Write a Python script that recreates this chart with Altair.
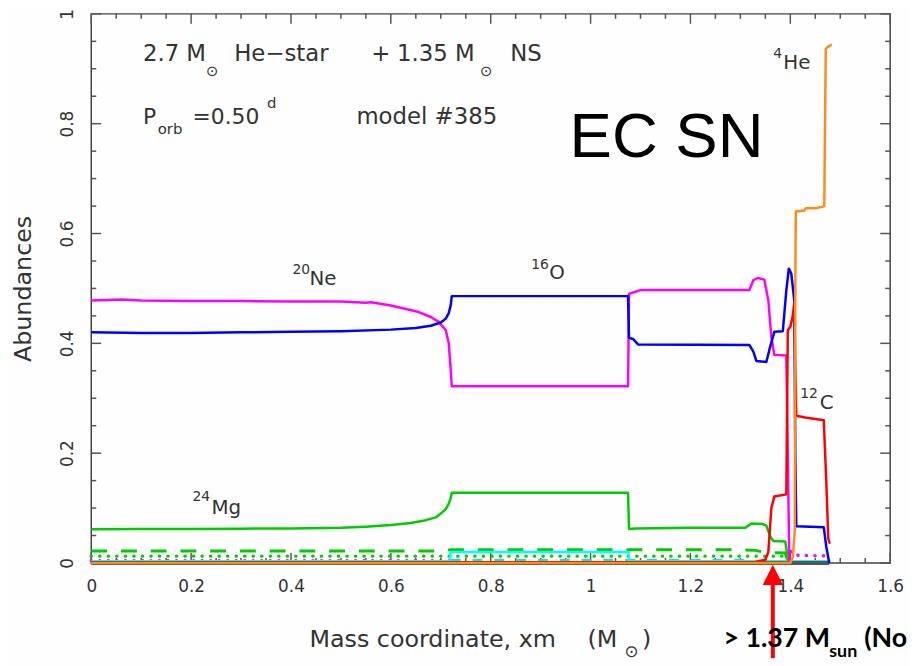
import altair as alt
import pandas as pd

# ---------------- data ----------------
# 20Ne (magenta, solid)
ne_x = [0, 0.03, 0.06, 0.1, 0.2, 0.3, 0.4, 0.5, 0.55, 0.56, 0.6, 0.656, 0.68, 0.696, 0.71, 0.716,
        0.72, 0.722, 1.075, 1.077, 1.09, 1.10, 1.318, 1.326, 1.335, 1.348, 1.356, 1.362, 1.368,
        1.392, 1.395, 1.398]
ne_y = [0.478, 0.479, 0.480, 0.478, 0.477, 0.477, 0.476, 0.476, 0.474, 0.475, 0.469, 0.457, 0.448,
        0.439, 0.424, 0.40, 0.35, 0.322, 0.322, 0.490, 0.494, 0.497, 0.497, 0.515, 0.519, 0.516,
        0.478, 0.412, 0.379, 0.378, 0.20, 0.0]
# 16O (blue, solid)
o_x = [0, 0.1, 0.2, 0.3, 0.4, 0.5, 0.6, 0.65, 0.68, 0.70, 0.71, 0.716, 0.72, 0.722, 1.075, 1.077,
       1.085, 1.095, 1.318, 1.326, 1.332, 1.352, 1.358, 1.368, 1.385, 1.392, 1.397, 1.402, 1.408,
       1.410, 1.412, 1.467, 1.472, 1.478]
o_y = [0.420, 0.419, 0.419, 0.420, 0.421, 0.422, 0.425, 0.428, 0.432, 0.438, 0.445, 0.455, 0.470,
       0.486, 0.486, 0.410, 0.408, 0.398, 0.397, 0.385, 0.368, 0.366, 0.388, 0.421, 0.422, 0.496,
       0.536, 0.527, 0.478, 0.20, 0.067, 0.065, 0.03, 0.0]
# 12C (red, solid)
c_x = [0, 1.33, 1.35, 1.356, 1.362, 1.368, 1.392, 1.395, 1.40, 1.405, 1.408, 1.410, 1.412, 1.43,
       1.467, 1.472, 1.476, 1.479]
c_y = [0.0, 0.002, 0.006, 0.02, 0.10, 0.121, 0.125, 0.424, 0.43, 0.45, 0.475, 0.35, 0.268, 0.265,
       0.26, 0.15, 0.045, 0.035]
# 4He (orange, solid)
he_x = [0, 1.40, 1.405, 1.409, 1.410, 1.411, 1.428, 1.431, 1.451, 1.465, 1.468, 1.471, 1.474, 1.483]
he_y = [0.0, 0.0, 0.01, 0.06, 0.5, 0.640, 0.642, 0.646, 0.646, 0.649, 0.650, 0.936, 0.939, 0.944]
# 24Mg (green, solid)
mg_x = [0, 0.1, 0.2, 0.3, 0.4, 0.5, 0.55, 0.6, 0.64, 0.67, 0.69, 0.70, 0.71, 0.716, 0.72, 0.722,
        1.075, 1.077, 1.09, 1.2, 1.31, 1.322, 1.345, 1.352, 1.36, 1.366, 1.39, 1.393, 1.397]
mg_y = [0.0615, 0.062, 0.062, 0.0625, 0.063, 0.064, 0.066, 0.069, 0.073, 0.078, 0.083, 0.090, 0.098,
        0.108, 0.118, 0.128, 0.128, 0.062, 0.063, 0.064, 0.064, 0.072, 0.071, 0.068, 0.048, 0.040,
        0.039, 0.02, 0.0]
# green dashed
gd_x = [0, 0.70, 0.72, 1.30, 1.33, 1.35, 1.39, 1.395]
gd_y = [0.022, 0.022, 0.024, 0.024, 0.023, 0.019, 0.018, 0.0]
# green dotted
gdot_x = [0, 1.39, 1.395]
gdot_y = [0.0125, 0.0125, 0.0]
# magenta dotted (inner part, and outer part near the surface)
md_x = [0, 0.72]
md_y = [0.004, 0.004]
md2_x = [1.395, 1.40, 1.405, 1.41, 1.47, 1.475]
md2_y = [0.005, 0.028, 0.015, 0.014, 0.013, 0.0]
# cyan solid
cy_x = [0, 0.718, 0.72, 1.076, 1.078, 1.48]
cy_y = [0.003, 0.003, 0.020, 0.020, 0.003, 0.003]
# cyan dashed
cyd_x = [0.72, 1.33]
cyd_y = [0.005, 0.005]
# grey base line
gr_x = [0, 1.478]
gr_y = [0.0, 0.0]

# axis ticks
x_major = [0, 0.2, 0.4, 0.6, 0.8, 1.0, 1.2, 1.4, 1.6]
x_minor = [round(0.05 * i, 2) for i in range(33) if i % 4 != 0]
y_major = [0, 0.2, 0.4, 0.6, 0.8, 1.0]
y_minor = [round(0.05 * i, 2) for i in range(21) if i % 4 != 0]

# arrow position (Mass coordinate)
arrow_x = [1.365]

# text annotations: text, x, y (data units), font size
header_t = ["2.7 M", "\u2299", "He\u2212star", "+", "1.35 M", "\u2299", "NS",
            "P", "orb", "=0.50", "d", "model #385"]
header_x = [0.1034, 0.2296, 0.2863, 0.5606, 0.6123, 0.7783, 0.8390,
            0.1034, 0.1332, 0.2028, 0.3519, 0.531]
header_y = [0.915, 0.886, 0.915, 0.915, 0.915, 0.886, 0.915,
            0.800, 0.7816, 0.800, 0.829, 0.800]
header_s = [23, 15, 23, 23, 23, 15, 23, 22, 15, 22, 15, 23]

iso_t = ["20", "Ne", "16", "O", "24", "Mg", "4", "He", "12", "C"]
iso_x = [0.403, 0.437, 0.881, 0.917, 0.2028, 0.2406, 1.366, 1.386, 1.420, 1.459]
iso_y = [0.527, 0.507, 0.536, 0.518, 0.112, 0.090, 0.920, 0.899, 0.301, 0.280]
iso_s = [14, 20, 14, 20, 14, 20, 14, 20, 14, 20]

xt_t = ["Mass coordinate, xm", "(M", "\u2299", ")"]
xt_x = [0.437, 0.994, 1.068, 1.103]
xt_y = [-0.153, -0.153, -0.172, -0.153]
xt_s = [24, 24, 17, 24]

note_t = ["> 1.37 M", "sun", "(No"]
note_x = [1.266, 1.478, 1.548]
note_y = [-0.153, -0.171, -0.153]
note_s = [27, 18, 27]

big_t = ["EC SN"]
big_x = [0.958]
big_y = [0.74]
big_s = [64]

# ---------------- chart ----------------
W, H = 806, 554
FONT = "DejaVu Sans"
TXT = "#333333"
xsc = alt.Scale(domain=[0, 1.6], nice=False, zero=False)
ysc = alt.Scale(domain=[0, 1], nice=False, zero=False)

x_axis = alt.Axis(values=x_major, format="~g", labelFontSize=17, labelColor=TXT,
                  labelFont=FONT, ticks=False, domain=False, grid=False, labelFlush=False,
                  labelPadding=16, title=None)
y_axis = alt.Axis(values=y_major, format="~g", labelFontSize=17, labelColor=TXT,
                  labelFont=FONT, ticks=False, domain=False, grid=False, labelFlush=False,
                  labelAngle=270, labelAlign="center", labelBaseline="bottom",
                  labelPadding=15, title="Abundances", titleFontSize=24,
                  titleFont=FONT, titleFontWeight="normal", titleColor=TXT,
                  titlePadding=23)


def line(xv, yv, color, width=2.5, dash=None, cap="butt"):
    df = pd.DataFrame({"x": xv, "y": yv, "i": list(range(len(xv)))})
    kw = dict(color=color, strokeWidth=width, strokeCap=cap, strokeJoin="round")
    if dash:
        kw["strokeDash"] = dash
    return alt.Chart(df).mark_line(**kw).encode(
        x=alt.X("x:Q", scale=xsc, axis=None),
        y=alt.Y("y:Q", scale=ysc, axis=None),
        order="i:Q",
    )


def texts(t, xv, yv, sv, font=FONT, color=TXT, weight="normal"):
    df = pd.DataFrame({"t": t, "x": xv, "y": yv, "s": sv})
    return alt.Chart(df).mark_text(align="left", baseline="alphabetic", font=font,
                                   color=color, fontWeight=weight).encode(
        x=alt.X("x:Q", scale=xsc, axis=None),
        y=alt.Y("y:Q", scale=ysc, axis=None),
        text="t:N",
        size=alt.Size("s:Q", scale=None),
    )


def xticks(vals, length):
    df = pd.DataFrame({"v": vals})
    base = alt.Chart(df).mark_rule(color="#555555", strokeWidth=1.5)
    bottom = base.encode(x=alt.X("v:Q", scale=xsc, axis=None), y=alt.value(H), y2=alt.value(H - length))
    top = base.encode(x=alt.X("v:Q", scale=xsc, axis=None), y=alt.value(0), y2=alt.value(length))
    return [bottom, top]


def yticks(vals, length):
    df = pd.DataFrame({"v": vals})
    base = alt.Chart(df).mark_rule(color="#555555", strokeWidth=1.5)
    left = base.encode(y=alt.Y("v:Q", scale=ysc, axis=None), x=alt.value(0), x2=alt.value(length))
    right = base.encode(y=alt.Y("v:Q", scale=ysc, axis=None), x=alt.value(W), x2=alt.value(W - length))
    return [left, right]


# first layer carries the axes (tick labels + y title)
axis_df = pd.DataFrame({"x": gr_x, "y": gr_y})
axis_layer = alt.Chart(axis_df).mark_line(opacity=0).encode(
    x=alt.X("x:Q", scale=xsc, axis=x_axis),
    y=alt.Y("y:Q", scale=ysc, axis=y_axis),
)

layers = [axis_layer]
layers += xticks(x_major, 10) + xticks(x_minor, 5) + yticks(y_major, 10) + yticks(y_minor, 5)
layers += [
    line(cyd_x, cyd_y, "#00e5e5", 2.5, dash=[10, 12]),
    line(md_x, md_y, "#ff00ff", 3.5, dash=[0.1, 8.5], cap="round"),
    line(md2_x, md2_y, "#ff00ff", 3.5, dash=[0.1, 8.5], cap="round"),
    line(gdot_x, gdot_y, "#00cc00", 3.5, dash=[0.1, 8.5], cap="round"),
    line(gd_x, gd_y, "#00cc00", 3, dash=[16, 14]),
    line(cy_x, cy_y, "#00ffff", 2.5),
    line(gr_x, gr_y, "#555555", 4),
    line(mg_x, mg_y, "#00cc00", 2.5),
    line(ne_x, ne_y, "#ff00ff", 2.5),
    line(o_x, o_y, "#0000ff", 2.5),
    line(c_x, c_y, "#ff0000", 2.5),
    line(he_x, he_y, "#ff8c1a", 2.5),
]

# red arrow below the axis
arrow_df = pd.DataFrame({"x": arrow_x})
layers.append(alt.Chart(arrow_df).mark_rule(color="#ff0000", strokeWidth=4).encode(
    x=alt.X("x:Q", scale=xsc, axis=None), y=alt.value(574), y2=alt.value(650)))
layers.append(alt.Chart(arrow_df).mark_point(shape="M-1,1L0,-1L1,1Z", filled=True, opacity=1,
                                             color="#ff0000", size=420).encode(
    x=alt.X("x:Q", scale=xsc, axis=None), y=alt.value(566)))

layers += [
    texts(header_t, header_x, header_y, header_s),
    texts(iso_t, iso_x, iso_y, iso_s),
    texts(xt_t, xt_x, xt_y, xt_s),
    texts(note_t, note_x, note_y, note_s, font="Lato", color="#000000", weight="bold"),
    texts(big_t, big_x, big_y, big_s, font="Liberation Sans", color="#000000"),
]

chart = alt.layer(*layers).resolve_axis(x="independent", y="independent").properties(
    width=W, height=H,
    autosize=alt.AutoSizeParams(type="none"),
    padding={"left": 84, "top": 3, "right": 19, "bottom": 101},
    background="#fdfefd",
).configure_view(stroke="#444444", strokeWidth=1.5)

chart.save("out.html", embed_options={"renderer": "svg", "actions": False})
